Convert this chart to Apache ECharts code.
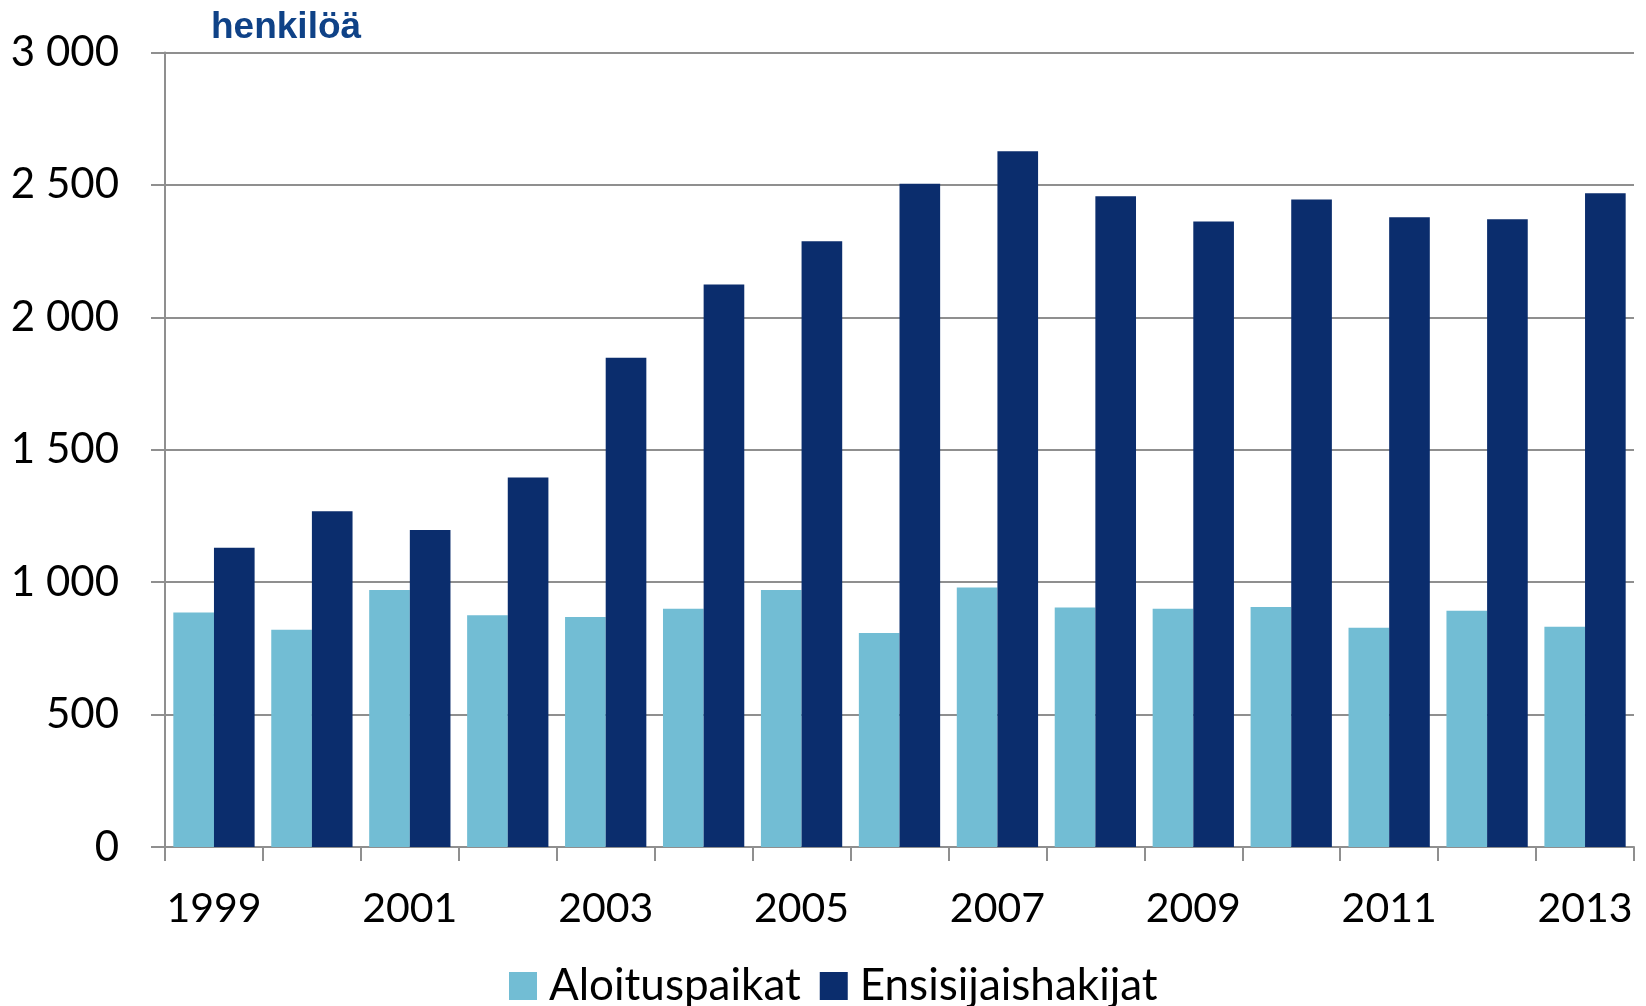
<!DOCTYPE html>
<html>
<head>
<meta charset="utf-8">
<script src="https://cdn.jsdelivr.net/npm/echarts@6/dist/echarts.min.js"></script>
<style>
  html, body { margin: 0; padding: 0; background: #fff; }
  #chart { width: 1646px; height: 1006px; }
</style>
</head>
<body>
<div id="chart"></div>
<script>
// vuodet
var years = ["1999", "2000", "2001", "2002", "2003", "2004", "2005", "2006",
  "2007", "2008", "2009", "2010", "2011", "2012", "2013"];
// aloituspaikat
var aloituspaikat = [885, 820, 970, 875, 868, 900, 970, 808, 980, 904, 900, 906, 828, 892, 832];
// ensisijaishakijat
var ensisijaishakijat = [1130, 1268, 1197, 1395, 1847, 2124, 2287, 2504, 2627, 2457, 2362, 2445, 2378, 2370, 2469];

var chart = echarts.init(document.getElementById("chart"));

function fmt(v) {
  // välilyönti tuhaterottimena
  return String(v).replace(/\B(?=(\d{3})+(?!\d))/g, " ");
}

var gray = "#8f8f8f";
var font = "Lato";

var option = {
  animation: false,
  backgroundColor: "#fff",
  title: {
    text: "henkilöä",
    left: 206,
    top: 4,
    textStyle: {
      fontFamily: "Liberation Sans",
      fontWeight: "bold",
      fontSize: 37,
      color: "#0f4287"
    }
  },
  legend: {
    data: ["Aloituspaikat", "Ensisijaishakijat"],
    left: 504,
    top: 959,
    itemWidth: 28,
    itemHeight: 28,
    itemGap: 19,
    icon: "rect",
    textStyle: {
      fontFamily: font,
      fontSize: 44,
      color: "#000",
      padding: [0, 0, 0, 7]
    }
  },
  grid: {
    left: 165,
    right: 12,
    top: 52.5,
    bottom: 159
  },
  xAxis: {
    type: "category",
    data: years,
    boundaryGap: true,
    axisLine: { lineStyle: { color: gray, width: 2 } },
    axisTick: {
      show: true,
      interval: 0,
      length: 14,
      lineStyle: { color: gray, width: 2 }
    },
    axisLabel: {
      interval: 1,
      margin: 41,
      fontFamily: font,
      fontSize: 41,
      color: "#000"
    }
  },
  yAxis: {
    type: "value",
    min: 0,
    max: 3000,
    interval: 500,
    axisLine: { show: true, lineStyle: { color: gray, width: 2 } },
    axisTick: { show: true, length: 14, lineStyle: { color: gray, width: 2 } },
    splitLine: { lineStyle: { color: gray, width: 2 } },
    axisLabel: {
      margin: 46,
      fontFamily: font,
      fontSize: 42,
      color: "#000",
      formatter: fmt
    }
  },
  series: [
    {
      name: "Aloituspaikat",
      type: "bar",
      data: aloituspaikat,
      barGap: "0%",
      barCategoryGap: "17%",
      itemStyle: { color: "#72bdd4" }
    },
    {
      name: "Ensisijaishakijat",
      type: "bar",
      data: ensisijaishakijat,
      barGap: "0%",
      barCategoryGap: "17%",
      itemStyle: { color: "#0b2d6d" }
    }
  ]
};

chart.setOption(option);
</script>
</body>
</html>
